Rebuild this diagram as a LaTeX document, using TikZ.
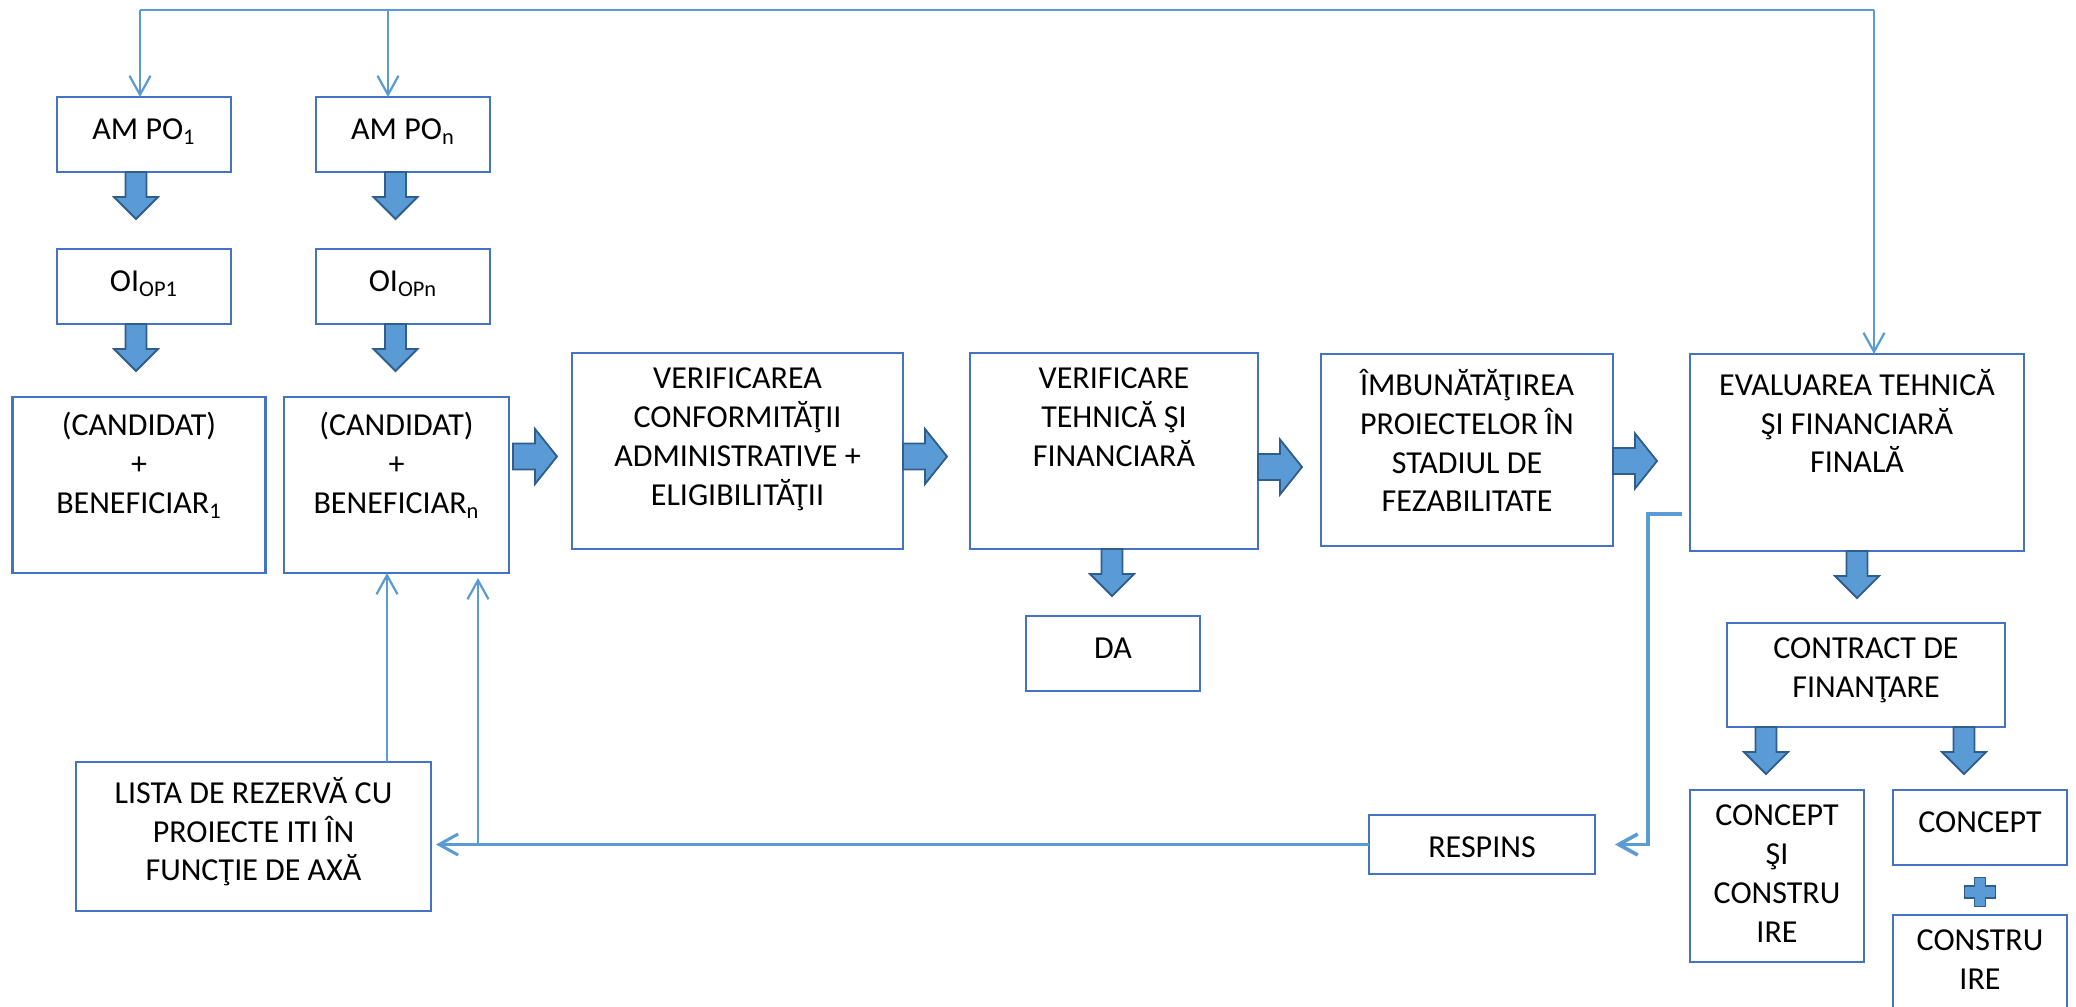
\documentclass[tikz,border=0pt]{standalone}
\usepackage{fontspec}
\setmainfont{Carlito}
\usetikzlibrary{arrows.meta}
\definecolor{boxblue}{HTML}{4472C4}
\definecolor{linkblue}{HTML}{5B9BD5}
\definecolor{fillblue}{HTML}{5B9BD5}
\definecolor{edgeblue}{HTML}{2F5D8C}

\begin{document}
\begin{tikzpicture}[x=0.5pt,y=-0.5pt,
  box/.style 2 args={draw=boxblue, line width=1.25pt, fill=white, inner sep=0pt,
    outer sep=0pt, minimum width=#1*0.5pt, minimum height=#2*0.5pt},
  lbl/.style={anchor=north, yshift=-7.4pt, align=center, inner sep=0pt,
    font=\fontsize{16pt}{19.4pt}\selectfont, execute at begin node=\strut, text=black},
  body/.style={label={[lbl]north:#1}},
  conn/.style={draw=linkblue, line width=1.1pt},
  tip/.style={-{Straight Barb[length=9.5pt,width=10.5pt]}},
  blk/.style={fill=fillblue, draw=edgeblue, line width=0.9pt, line join=miter},
  pics/darr/.style={code={\path[blk] (-10.5,0) -- (-10.5,25) -- (-22,25) -- (0,47)
    -- (22,25) -- (10.5,25) -- (10.5,0) -- cycle;}},
  pics/rarr/.style={code={\path[blk] (0,-13) -- (22,-13) -- (22,-27.5) -- (44,0)
    -- (22,27.5) -- (22,13) -- (0,13) -- cycle;}},
  pics/plusblk/.style={code={\path[blk] (-5.5,-14.5) -- (5.5,-14.5) -- (5.5,-6)
    -- (15.5,-6) -- (15.5,6) -- (5.5,6) -- (5.5,14.5) -- (-5.5,14.5) -- (-5.5,6)
    -- (-15.5,6) -- (-15.5,-6) -- (-5.5,-6) -- cycle;}},
]
\clip (0,0) rectangle (2076,1006);
\fill[white] (0,0) rectangle (2076,1006);

% programme authorities and intermediate bodies
\node[box={174}{75}, body={AM PO\textsubscript{1}}] (amp1) at (144,134.5) {};
\node[box={174}{75}, body={AM PO\textsubscript{n}}] (ampn) at (403,134.5) {};
\node[box={174}{75}, body={OI\textsubscript{OP1}}] (oi1) at (144,286.5) {};
\node[box={174}{75}, body={OI\textsubscript{OPn}}] (oin) at (403,286.5) {};

% applicants
\node[box={253}{176}, body={(CANDIDAT)\\+\\BENEFICIAR\textsubscript{1}}] (cand1) at (139,485) {};
\node[box={225}{176}, body={(CANDIDAT)\\+\\BENEFICIAR\textsubscript{n}}] (candn) at (396.5,485) {};

% main evaluation chain
\node[box={331}{196}, body={VERIFICAREA\\CONFORMITĂŢII\\ADMINISTRATIVE +\\ELIGIBILITĂŢII}] (verif1) at (737.5,451) {};
\node[box={288}{196}, body={VERIFICARE\\TEHNICĂ ŞI\\FINANCIARĂ}] (verif2) at (1114,451) {};
\node[box={292}{192}, body={ÎMBUNĂTĂŢIREA\\PROIECTELOR ÎN\\STADIUL DE\\FEZABILITATE}] (imbun) at (1467,450) {};
\node[box={334}{197}, body={EVALUAREA TEHNICĂ\\ŞI FINANCIARĂ\\FINALĂ}] (eval) at (1857,452.5) {};

\node[box={174}{75}, body={DA}] (da) at (1113,653.5) {};
\node[box={278}{104}, body={CONTRACT DE\\FINANŢARE}] (contract) at (1866,675) {};
\node[box={174}{172}, body={CONCEPT\\ŞI\\CONSTRU\\IRE}] (cs) at (1777,876) {};
\node[box={174}{75}, body={CONCEPT}] (cpt) at (1980,827.5) {};
\node[box={174}{130}, body={CONSTRU\\IRE}] (constr) at (1980,980) {};

% rejection and reserve list
\node[box={226}{59}, body={RESPINS}] (respins) at (1482,844.5) {};
\node[box={355}{149}, body={LISTA DE REZERVĂ CU\\PROIECTE ITI ÎN\\FUNCŢIE DE AXĂ}] (lista) at (253.5,836.5) {};

% thin feedback connectors
\coordinate (tl) at (140,10);
\coordinate (tm) at (388,10);
\coordinate (tr) at (1874,10);
\draw[conn] (tl) -- (tr);
\draw[conn,tip] (tl) -- (tl |- amp1.north);
\draw[conn,tip] (tm) -- (tm |- ampn.north);
\draw[conn,tip] (tr) -- (tr |- eval.north);

\coordinate (ua) at (387,762);
\coordinate (ub) at (478,844.5);
\draw[conn,tip] (ua) -- (ua |- candn.south);
\draw[conn,tip,shorten >=2.5pt] (ub) -- (ub |- candn.south);
\draw[conn,tip,line width=1.5pt,shorten >=2.5pt] (respins.west) -- (respins.west -| lista.east);

\coordinate (rj) at (1682,514);
\draw[conn,tip,line width=1.8pt] (rj) -- (1648,514) |- ([xshift=10pt]respins.east);

% block arrows
\pic at (136,172) {darr};
\pic at (395.5,172) {darr};
\pic at (136,324) {darr};
\pic at (395.5,324) {darr};
\pic at (1112,549) {darr};
\pic at (1857,551) {darr};
\pic at (1766,727) {darr};
\pic at (1964,727) {darr};

\pic at (513,456.5) {rarr};
\pic at (903,456.5) {rarr};
\pic at (1258,467) {rarr};
\pic at (1613,461) {rarr};

\pic at (1980,892) {plusblk};
\end{tikzpicture}
\end{document}
